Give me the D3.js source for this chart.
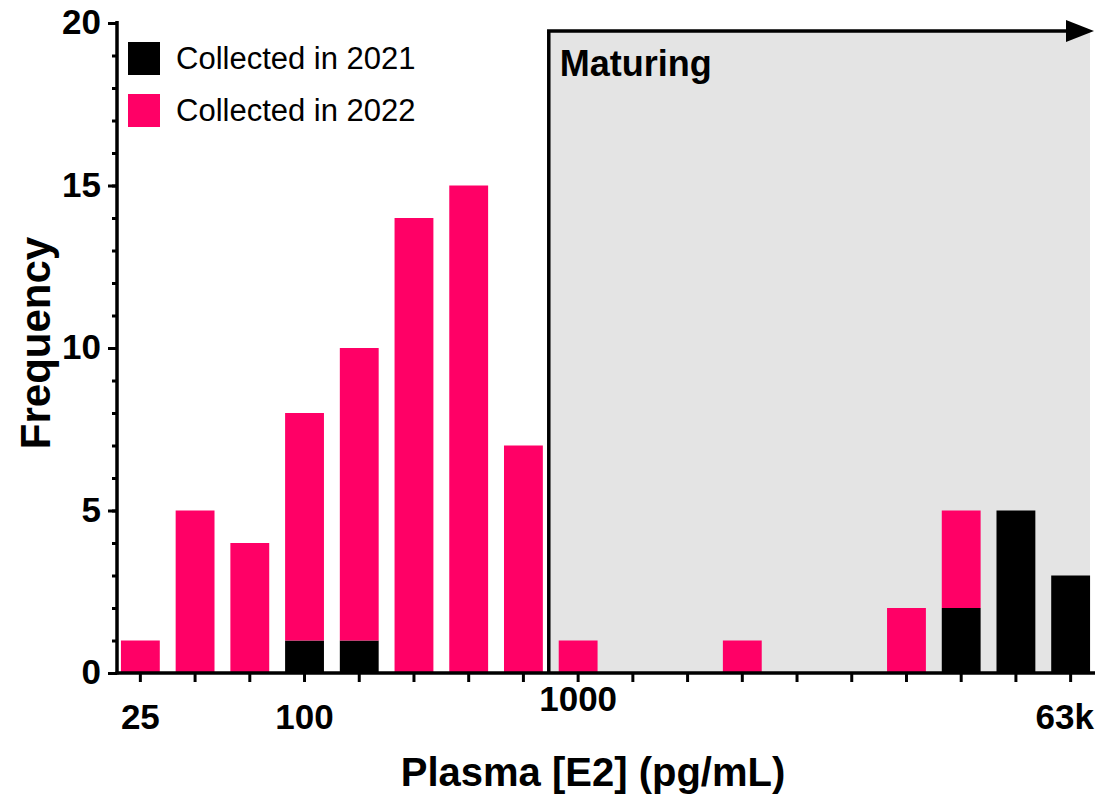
<!doctype html>
<html lang="en">

<head>
    <meta charset="utf-8" />
    <title>Plasma E2 frequency</title>
    <script src="https://d3js.org/d3.v7.min.js"></script>
    <style>
        body { margin: 0; background: #fff; }
        text { font-family: "Liberation Sans", Arial, sans-serif; }
    </style>
</head>

<body>
    <div id="my_dataviz"></div>
    <script>
        // histogram bins of plasma E2 (pg/mL), log spaced
        var bins = d3.range(18);
        var binLabels = ["25", "", "", "100", "", "", "", "", "1000", "", "", "", "", "", "", "", "", "63k"];
        var collected2021 = [0, 0, 0, 1, 1, 0, 0, 0, 0, 0, 0, 0, 0, 0, 0, 2, 5, 3];
        var collected2022 = [1, 5, 4, 7, 9, 14, 15, 7, 1, 0, 0, 1, 0, 0, 2, 3, 0, 0];
        var yMajorTicks = [0, 5, 10, 15, 20];
        var maturingFrom = 8; // first bin of the maturing region

        var width = 1095,
            height = 799,
            pink = "#ff0066",
            grey = "#e4e4e4";

        var svg = d3.select("#my_dataviz")
            .append("svg")
            .attr("width", width)
            .attr("height", height);

        var x = d3.scaleBand()
            .domain(bins)
            .range([113, 1098])
            .paddingInner(0.29)
            .paddingOuter(0.145);
        var y = d3.scaleLinear().domain([0, 20]).range([673, 23]);

        var axisX = 117;
        var boxX = x(maturingFrom) - x.step() * 0.145 - 2;
        var boxTop = 31;

        // maturing region
        svg.append("rect")
            .attr("x", boxX)
            .attr("y", boxTop)
            .attr("width", 1090 - boxX)
            .attr("height", y(0) - boxTop)
            .style("fill", grey);

        // stacked bars: 2021 at the bottom, 2022 on top
        var rows = bins.map(i => ({ bin: i, a: collected2021[i], b: collected2022[i] }));
        var g = svg.selectAll(".bin")
            .data(rows)
            .enter().append("g")
            .attr("class", "bin");

        g.filter(d => d.a > 0).append("rect")
            .attr("x", d => x(d.bin))
            .attr("width", x.bandwidth())
            .attr("y", d => y(d.a))
            .attr("height", d => y(0) - y(d.a))
            .style("fill", "#000");

        g.filter(d => d.b > 0).append("rect")
            .attr("x", d => x(d.bin))
            .attr("width", x.bandwidth())
            .attr("y", d => y(d.a + d.b))
            .attr("height", d => y(d.a) - y(d.a + d.b))
            .style("fill", pink);

        // box outline with arrow
        svg.append("path")
            .attr("d", `M${boxX},${y(0)}V${boxTop}H1068`)
            .style("fill", "none")
            .style("stroke", "#000")
            .style("stroke-width", 3.5);
        svg.append("path")
            .attr("d", `M1066,${boxTop - 11}L1094,${boxTop}L1066,${boxTop + 11}Z`)
            .style("fill", "#000");

        svg.append("text")
            .attr("x", boxX + 11)
            .attr("y", 76)
            .style("font-size", "36px")
            .style("font-weight", "bold")
            .text("Maturing");

        // y axis: minor ticks every 1, major every 5
        var yMinor = svg.append("g")
            .attr("transform", `translate(${axisX},0)`)
            .call(d3.axisLeft(y).tickValues(d3.range(0, 21)).tickSize(5).tickFormat(""));
        var yMajor = svg.append("g")
            .attr("transform", `translate(${axisX},0)`)
            .call(d3.axisLeft(y).tickValues(yMajorTicks).tickSize(9).tickPadding(7).tickSizeOuter(0));
        svg.selectAll("g path.domain").remove();
        [yMinor, yMajor].forEach(a => a.selectAll("line").style("stroke-width", 3));
        yMajor.selectAll("text")
            .attr("dy", "0.3em")
            .style("font-size", "35px")
            .style("font-weight", "bold")
            .style("fill", "#000");

        svg.append("line")
            .attr("x1", axisX).attr("x2", axisX)
            .attr("y1", y(0) + 1.5).attr("y2", y(20) - 2)
            .style("stroke", "#000")
            .style("stroke-width", 3.5);

        // x axis
        var xAxis = svg.append("g")
            .attr("transform", `translate(0,${y(0)})`)
            .call(d3.axisBottom(x).tickSize(9).tickPadding(22).tickFormat((d, i) => binLabels[i]));
        xAxis.select("path.domain").remove();
        xAxis.selectAll("line").style("stroke-width", 3);
        xAxis.selectAll("text")
            .attr("dy", d => d === maturingFrom ? "0.2em" : "0.71em")
            .style("font-size", "35px")
            .style("font-weight", "bold")
            .style("fill", "#000");
        // last label sits flush with the right edge
        xAxis.selectAll("text")
            .filter(d => d === bins[bins.length - 1])
            .attr("text-anchor", "end")
            .attr("x", d => 1094 - (x(d) + x.bandwidth() / 2));

        svg.append("line")
            .attr("x1", axisX - 1.5).attr("x2", 1095)
            .attr("y1", y(0)).attr("y2", y(0))
            .style("stroke", "#000")
            .style("stroke-width", 3.5);

        // legend
        var legend = [["Collected in 2021", "#000"], ["Collected in 2022", pink]];
        var lg = svg.selectAll(".legend")
            .data(legend)
            .enter().append("g")
            .attr("class", "legend")
            .attr("transform", (d, i) => `translate(128,${42 + i * 52})`);
        lg.append("rect")
            .attr("width", 32)
            .attr("height", 33)
            .style("fill", d => d[1]);
        lg.append("text")
            .attr("x", 48)
            .attr("y", 16)
            .attr("dy", "0.35em")
            .style("font-size", "31px")
            .text(d => d[0]);

        // axis titles
        svg.append("text")
            .attr("text-anchor", "middle")
            .attr("x", 593)
            .attr("y", 786)
            .style("font-size", "40px")
            .style("font-weight", "bold")
            .text("Plasma [E2] (pg/mL)");

        svg.append("text")
            .attr("text-anchor", "middle")
            .attr("transform", "translate(50,343) rotate(-90)")
            .style("font-size", "42px")
            .style("font-weight", "bold")
            .text("Frequency");
    </script>
</body>

</html>
